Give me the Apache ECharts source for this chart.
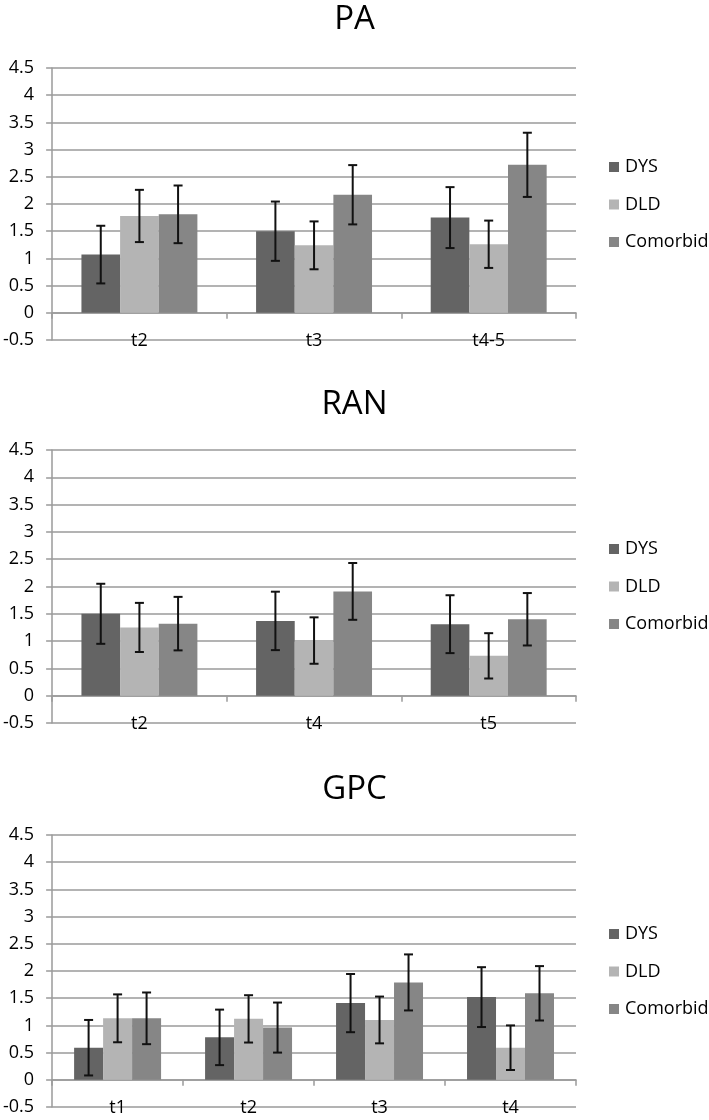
<!DOCTYPE html>
<html>
<head>
<meta charset="utf-8">
<script src="https://cdn.jsdelivr.net/npm/echarts@6/dist/echarts.min.js"></script>
<style>
html,body{margin:0;padding:0;background:#fff;}
#chart{width:709px;height:1120px;}
</style>
</head>
<body>
<div id="chart"></div>
<script>
// ---- data ----
const seriesNames = ['DYS', 'DLD', 'Comorbid'];
const panelTitles = ['PA', 'RAN', 'GPC'];
const yTicks = [-0.5, 0, 0.5, 1, 1.5, 2, 2.5, 3, 3.5, 4, 4.5];

const paCats = ['t2', 't3', 't4-5'];
const paDYS = [1.07, 1.50, 1.75];
const paDLD = [1.78, 1.24, 1.26];
const paCom = [1.81, 2.17, 2.72];
const paDYSerr = [0.53, 0.545, 0.56];
const paDLDerr = [0.48, 0.44, 0.435];
const paComerr = [0.53, 0.545, 0.59];

const ranCats = ['t2', 't4', 't5'];
const ranDYS = [1.50, 1.37, 1.31];
const ranDLD = [1.25, 1.01, 0.73];
const ranCom = [1.32, 1.91, 1.40];
const ranDYSerr = [0.55, 0.535, 0.53];
const ranDLDerr = [0.45, 0.425, 0.415];
const ranComerr = [0.49, 0.52, 0.48];

const gpcCats = ['t1', 't2', 't3', 't4'];
const gpcDYS = [0.59, 0.78, 1.41, 1.52];
const gpcDLD = [1.13, 1.12, 1.10, 0.59];
const gpcCom = [1.13, 0.96, 1.79, 1.59];
const gpcDYSerr = [0.51, 0.51, 0.535, 0.55];
const gpcDLDerr = [0.44, 0.435, 0.43, 0.41];
const gpcComerr = [0.475, 0.46, 0.515, 0.50];

// ---- styling ----
const colors = ['#646464', '#b4b4b4', '#868686'];
const gridCol = '#9a9a9a';
const FONT = 'Open Sans';
const gapFrac = 0.336;

const panels = [
  { cats: paCats, vals: [paDYS, paDLD, paCom], errs: [paDYSerr, paDLDerr, paComerr], top: 68, height: 272, titleTop: 3, legendTop: 157 },
  { cats: ranCats, vals: [ranDYS, ranDLD, ranCom], errs: [ranDYSerr, ranDLDerr, ranComerr], top: 450, height: 273, titleTop: 388, legendTop: 539 },
  { cats: gpcCats, vals: [gpcDYS, gpcDLD, gpcCom], errs: [gpcDYSerr, gpcDLDerr, gpcComerr], top: 835, height: 272, titleTop: 773, legendTop: 924 }
];

const option = {
  animation: false,
  backgroundColor: '#fff',
  title: [], legend: [], grid: [], xAxis: [], yAxis: [], series: []
};

panels.forEach((p, pi) => {
  option.title.push({
    text: panelTitles[pi], left: 'center', top: p.titleTop, padding: 0,
    textStyle: { fontFamily: FONT, fontSize: 33, fontWeight: 'normal', color: '#000' }
  });
  option.legend.push({
    data: seriesNames, orient: 'vertical', left: 609, top: p.legendTop, padding: 0,
    itemWidth: 10, itemHeight: 10, itemGap: 17.5, icon: 'rect',
    textStyle: { fontFamily: FONT, fontSize: 18, color: '#000', lineHeight: 20, padding: [0, 0, 0, 1] }
  });
  option.grid.push({ left: 52, right: 133, top: p.top, height: p.height });
  option.xAxis.push({
    type: 'category', gridIndex: pi, data: p.cats,
    axisLine: { onZero: true, lineStyle: { color: gridCol, width: 1.5 } },
    axisTick: { show: true, length: 6, lineStyle: { color: gridCol, width: 1.5 } },
    axisLabel: { fontFamily: FONT, fontSize: 18, color: '#000', margin: 1, verticalAlign: 'middle' },
    splitLine: { show: false }
  });
  option.yAxis.push({
    type: 'value', gridIndex: pi, min: -0.5, max: 4.5, interval: 0.5,
    axisLine: { show: true, lineStyle: { color: gridCol, width: 1.5 } },
    axisTick: { show: true, length: 6, lineStyle: { color: gridCol, width: 1.5 } },
    axisLabel: { fontFamily: FONT, fontSize: 18, color: '#000', margin: 18,
      formatter: v => { const t = yTicks.find(x => Math.abs(x - v) < 1e-6); return t === undefined ? '' : String(t); } },
    splitLine: { show: true, lineStyle: { color: gridCol, width: 1.5 } }
  });
  seriesNames.forEach((name, si) => {
    option.series.push({
      name, type: 'bar', xAxisIndex: pi, yAxisIndex: pi,
      data: p.vals[si], barGap: '0%', barCategoryGap: (gapFrac * 100) + '%',
      itemStyle: { color: colors[si] }
    });
  });
  seriesNames.forEach((name, si) => {
    const data = p.vals[si].map((v, i) => [i, v - p.errs[si][i], v + p.errs[si][i]]);
    option.series.push({
      name: name + '-err', type: 'custom', xAxisIndex: pi, yAxisIndex: pi, z: 10,
      data,
      renderItem: (params, api) => {
        const ci = api.value(0);
        const band = api.size([1, 0])[0];
        const bw = band * (1 - gapFrac) / 3;
        const center = api.coord([ci, 0])[0] + (si - 1) * bw;
        const lo = api.coord([ci, api.value(1)])[1];
        const hi = api.coord([ci, api.value(2)])[1];
        const cap = 4.5;
        const style = { stroke: '#111', lineWidth: 2 };
        return {
          type: 'group',
          children: [
            { type: 'line', shape: { x1: center, y1: hi, x2: center, y2: lo }, style },
            { type: 'line', shape: { x1: center - cap, y1: hi, x2: center + cap, y2: hi }, style },
            { type: 'line', shape: { x1: center - cap, y1: lo, x2: center + cap, y2: lo }, style }
          ]
        };
      }
    });
  });
});

const chart = echarts.init(document.getElementById('chart'), null, { renderer: 'canvas' });
chart.setOption(option);
</script>
</body>
</html>
